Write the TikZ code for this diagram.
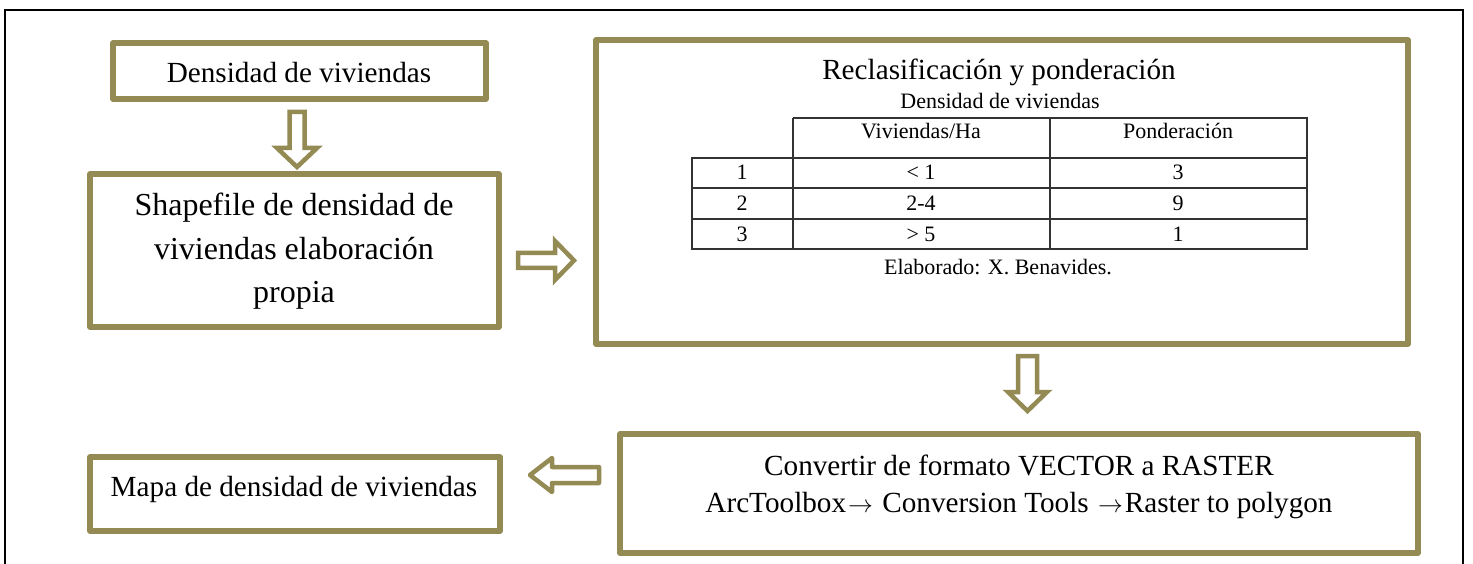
\documentclass[tikz,border=0pt]{standalone}
\usepackage{fontspec}
\setmainfont{Liberation Serif}
\newcommand{\rarr}{\kern2pt{\fontsize{29}{36}\selectfont$\rightarrow$}\kern2pt}
\definecolor{olive}{HTML}{948A54}
\begin{document}
\begin{tikzpicture}[x=1pt,y=-1pt,
  box/.style={draw=olive,line width=5.5pt,line join=round,fill=white,inner sep=0pt,outer sep=0pt},
  big/.style={font=\fontsize{29.2}{37}\selectfont,align=center,inner sep=0pt},
  bigger/.style={font=\fontsize{32}{43.5}\selectfont,align=center,inner sep=0pt},
  small/.style={font=\fontsize{22}{26}\selectfont,inner sep=0pt},
  blockarrow/.style={draw=olive,line width=4.5pt,fill=white,line join=miter},
  tab/.style={draw=black!80,line width=1.1pt}]
\useasboundingbox (0,0) rectangle (1473,564);
% outer frame
\draw[line width=2pt] (5,570) -- (5,10) -- (1463,10) -- (1463,570);
% boxes
\node[box,minimum width=373pt,minimum height=56pt] (b1) at (299.5,71) {};
\node[box,minimum width=409pt,minimum height=153pt] (b2) at (294.5,250.5) {};
\node[box,minimum width=812pt,minimum height=304pt] (b3) at (1002,192) {};
\node[box,minimum width=798pt,minimum height=119pt] (b4) at (1019,493.5) {};
\node[box,minimum width=410pt,minimum height=74pt] (b5) at (295,494) {};
% texts
\node[big] (t1) at (299,73) {Densidad de viviendas};
\node[bigger] (t2) at (294,251.5) {Shapefile de densidad de\\viviendas elaboración\\propia};
\node[big] (t4) at (1019,486.5) {Convertir de formato VECTOR a RASTER\\ArcToolbox\rarr{} Conversion Tools \rarr{}Raster to polygon};
\node[big] (t5) at (294,489) {Mapa de densidad de viviendas};
\node[big] (t3) at (999,72) {Reclasificación y ponderación};
\node[small] (t3a) at (1000,101) {Densidad de viviendas};
\node[small] (t3b) at (998,267) {Elaborado: X. Benavides.};
% table
\draw[tab] (793,118) -- (1307,118) -- (1307,249) -- (692,249) -- (692,158) -- (1307,158);
\draw[tab] (793,118) -- (793,249);
\draw[tab] (1050,118) -- (1050,249);
\draw[tab] (692,188) -- (1307,188);
\draw[tab] (692,219) -- (1307,219);
\node[small] (h1) at (921,131) {Viviendas/Ha};
\node[small] (h2) at (1178,131) {Ponderación};
\node[small] (r1a) at (742,172) {1};
\node[small] (r1b) at (921,172) {< 1};
\node[small] (r1c) at (1178,172) {3};
\node[small] (r2a) at (742,203) {2};
\node[small] (r2b) at (921,203) {2-4};
\node[small] (r2c) at (1178,203) {9};
\node[small] (r3a) at (742,234) {3};
\node[small] (r3b) at (921,234) {> 5};
\node[small] (r3c) at (1178,234) {1};
% block arrows
\draw[blockarrow] (289.5,112) -- (304.5,112) -- (304.5,148) -- (317,148) -- (297,167) -- (277,148) -- (289.5,148) -- cycle;
\draw[blockarrow] (518,253) -- (555,253) -- (555,241) -- (574,260.5) -- (555,280) -- (555,268) -- (518,268) -- cycle;
\draw[blockarrow] (1018,356) -- (1037,356) -- (1037,392) -- (1047,392) -- (1027.5,411) -- (1008,392) -- (1018,392) -- cycle;
\draw[blockarrow,line join=round] (599,467) -- (552,467) -- (552,458) -- (530,475) -- (552,492) -- (552,483) -- (599,483) -- cycle;
\end{tikzpicture}
\end{document}
